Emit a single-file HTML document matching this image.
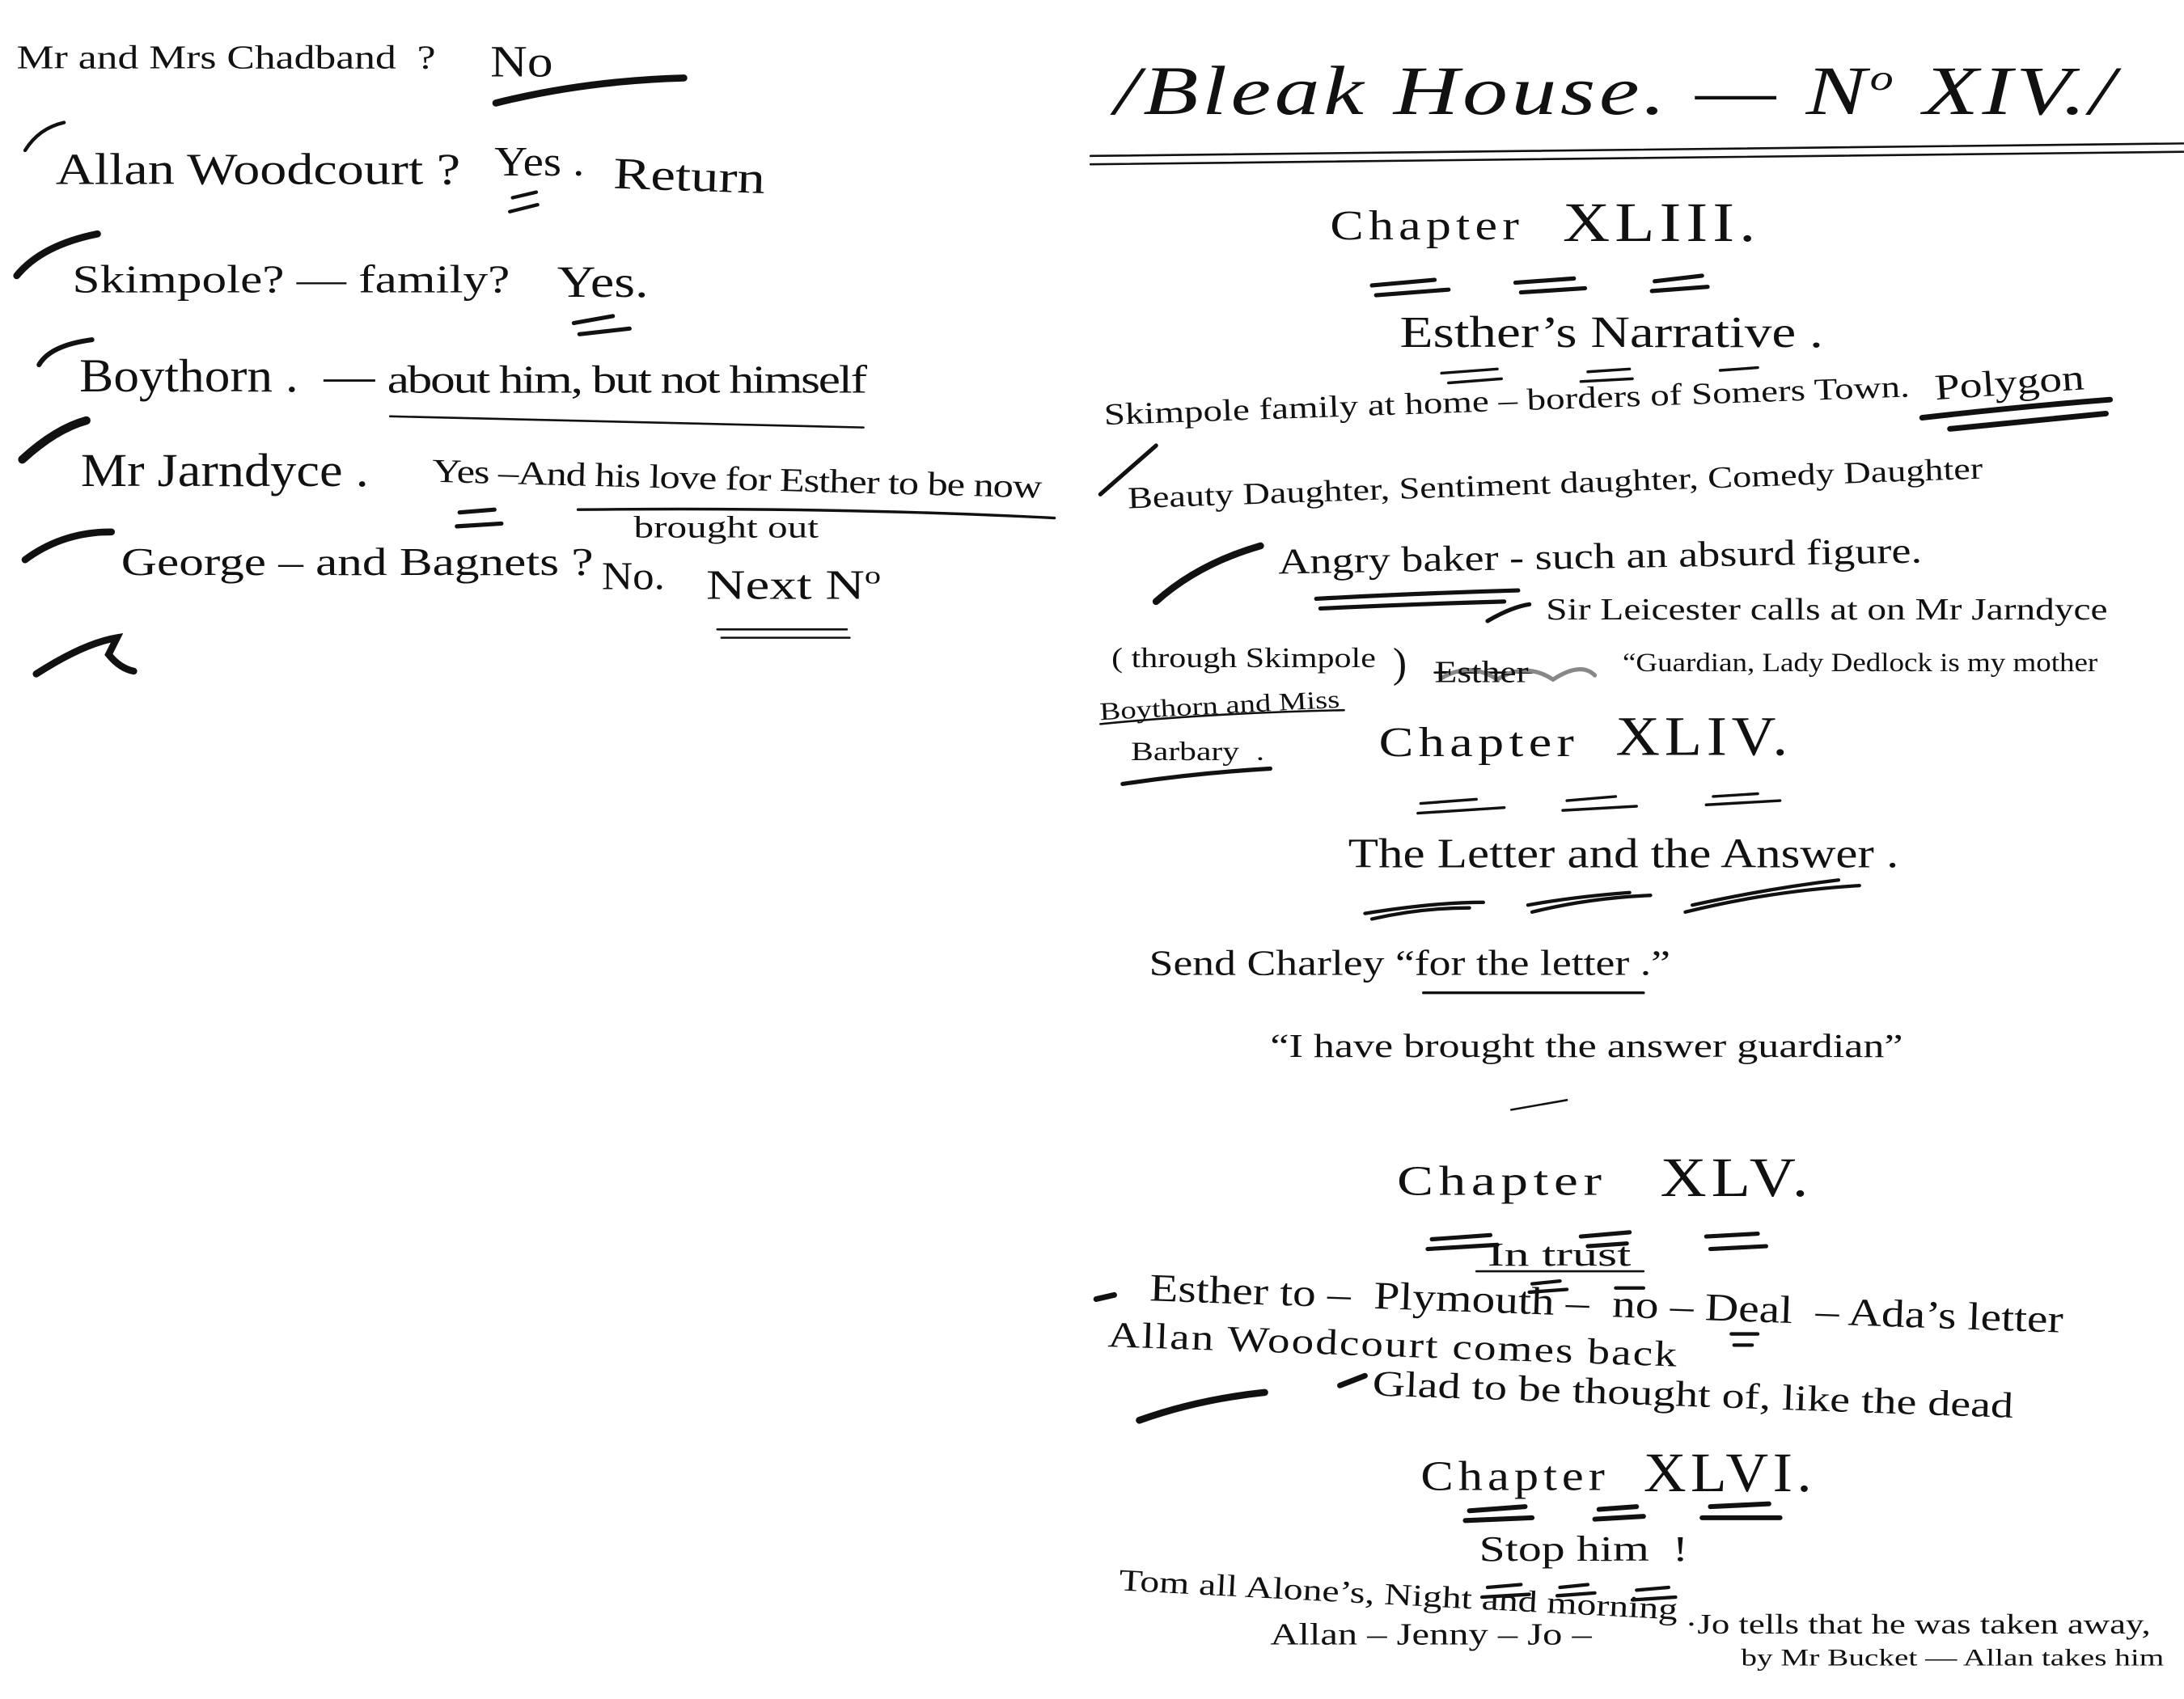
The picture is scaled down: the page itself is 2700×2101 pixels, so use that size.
<!DOCTYPE html>
<html><head><meta charset="utf-8"><style>
html,body{margin:0;padding:0;background:#fff;width:2700px;height:2100px;overflow:hidden}
#w{position:absolute;left:0;top:0;width:1568px;height:1220px;transform:scale(1.7219);transform-origin:0 0;font-family:"Liberation Serif",serif;color:#111}
.t{position:absolute;white-space:nowrap;line-height:1;transform-origin:0 100%;transform:rotate(var(--r,0deg)) scaleX(var(--s,1.22))}
svg{position:absolute;left:0;top:0}
.ch{letter-spacing:3px}
</style></head><body><div id="w">
<svg width="1568" height="1220" viewBox="0 0 1568 1220" fill="none" stroke="#111" stroke-linecap="round">
<path d="M356 74 Q420 58 491 56" stroke-width="5"/>
<path d="M18 108 Q28 92 46 88" stroke-width="2.5"/>
<path d="M12 198 Q30 176 70 168" stroke-width="5"/>
<path d="M28 262 Q36 248 66 244" stroke-width="3.5"/>
<path d="M16 330 Q40 308 62 302" stroke-width="6"/>
<path d="M18 402 Q45 382 80 382" stroke-width="5"/>
<path d="M26 484 Q60 462 84 458 L78 470 Q86 480 96 482" stroke-width="5"/>
<path d="M368 142 L385 138 M366 152 L386 147" stroke-width="2.5"/>
<path d="M412 232 L440 227 M416 240 L452 236" stroke-width="3"/>
<path d="M280 299 Q450 303 620 307" stroke-width="1.5"/>
<path d="M330 368 L355 366 M328 378 L360 376" stroke-width="3"/>
<path d="M415 366 Q600 364 757 372" stroke-width="2"/>
<path d="M515 452 L608 452 M518 458 L610 458" stroke-width="1.5"/>
<path d="M783 112 L1568 103 M783 118 L1568 109" stroke-width="1.5"/>
<path d="M985 205 L1030 201 M988 212 L1040 208 M1088 203 L1130 200 M1092 210 L1138 207 M1188 202 L1222 198 M1186 209 L1226 206" stroke-width="3"/>
<path d="M1035 268 L1075 265 M1040 275 L1078 272 M1140 267 L1170 265 M1135 274 L1172 272 M1235 266 L1262 264" stroke-width="2"/>
<path d="M1380 300 Q1450 292 1515 287 M1400 308 Q1460 302 1512 297" stroke-width="4"/>
<path d="M790 355 L830 320" stroke-width="3"/>
<path d="M830 432 Q860 405 905 392" stroke-width="5"/>
<path d="M945 430 Q1020 426 1090 424 M948 437 Q1010 434 1080 432" stroke-width="3"/>
<path d="M1068 446 Q1085 436 1098 434" stroke-width="3"/>
<path d="M1030 483 L1100 483" stroke-width="1.5"/>
<path d="M1035 487 Q1055 475 1075 488 Q1095 475 1115 488 Q1135 475 1145 485" stroke="#888" stroke-width="3"/>
<path d="M790 520 Q870 512 965 510" stroke-width="1.5"/>
<path d="M806 563 Q860 555 912 552" stroke-width="3"/>
<path d="M1020 577 L1060 574 M1018 584 L1080 580 M1125 575 L1160 572 M1122 582 L1175 579 M1230 572 L1262 570 M1225 578 L1278 575" stroke-width="2"/>
<path d="M985 660 Q1020 652 1055 652 M980 656 Q1030 648 1065 648 M1100 655 Q1140 645 1185 643 M1097 650 Q1130 644 1170 641 M1210 655 Q1270 640 1335 636 M1215 650 Q1270 638 1320 632" stroke-width="2.5"/>
<path d="M1022 713 L1180 713" stroke-width="2"/>
<path d="M1085 797 L1125 790" stroke-width="1.5"/>
<path d="M1028 890 L1070 887 M1025 897 L1075 894 M1135 888 L1170 885 M1140 895 L1168 893 M1225 888 L1262 886 M1228 897 L1268 895" stroke-width="3"/>
<path d="M1060 913 L1180 913" stroke-width="1.5"/>
<path d="M1100 922 L1120 920 M1098 928 L1125 926 M1160 925 L1180 925 M1243 958 L1262 958 M1245 966 L1258 966" stroke-width="2.5"/>
<path d="M787 933 L800 930" stroke-width="4"/>
<path d="M818 1020 Q860 1005 908 1000" stroke-width="5"/>
<path d="M962 995 L980 988" stroke-width="4"/>
<path d="M1055 1085 L1095 1082 M1052 1092 L1100 1090 M1148 1084 L1175 1082 M1145 1091 L1180 1089 M1228 1082 L1270 1080 M1222 1090 L1278 1090" stroke-width="3.5"/>
<path d="M1068 1140 L1092 1138 M1064 1147 L1098 1145 M1120 1140 L1140 1138 M1118 1146 L1145 1144 M1175 1142 L1198 1140 M1172 1149 L1203 1147" stroke-width="2.5"/>
</svg>
<div class="t" style="left:12px;top:30px;font-size:24px;--s:1.25">Mr and Mrs Chadband&nbsp; ?</div>
<div class="t" style="left:352px;top:28px;font-size:32px;--s:1.15">No</div>
<div class="t" style="left:40px;top:105px;font-size:32px;--s:1.2">Allan Woodcourt ?</div>
<div class="t" style="left:355px;top:102px;font-size:30px;--s:1.1">Yes .</div>
<div class="t" style="left:440px;top:108px;font-size:32px;--r:2deg;--s:1.25">Return</div>
<div class="t" style="left:52px;top:188px;font-size:28px;--s:1.27">Skimpole? — family?</div>
<div class="t" style="left:400px;top:186px;font-size:32px;--s:1.2">Yes.</div>
<div class="t" style="left:57px;top:254px;font-size:34px;--s:1.08">Boythorn .&nbsp; —</div>
<div class="t" style="left:278px;top:260px;font-size:28px;letter-spacing:-1px;--s:1.27">about him, but not himself</div>
<div class="t" style="left:58px;top:322px;font-size:34px;--s:1.1">Mr Jarndyce .</div>
<div class="t" style="left:310px;top:327px;font-size:24px;letter-spacing:-0.5px;--r:1.5deg;--s:1.22">Yes –And his love for Esther to be now</div>
<div class="t" style="left:455px;top:368px;font-size:22px;--s:1.3">brought out</div>
<div class="t" style="left:87px;top:391px;font-size:28px;--s:1.27">George – and Bagnets ?</div>
<div class="t" style="left:432px;top:401px;font-size:28px;--s:1.1">No.</div>
<div class="t" style="left:507px;top:404px;font-size:30px;--s:1.3">Next N<sup style="font-size:18px">o</sup></div>
<div class="t" style="left:800px;top:40px;font-size:50px;font-style:italic;letter-spacing:2px;--s:1.3">/Bleak House. — N<sup style="font-size:26px">o</sup> XIV./</div>
<div class="t ch" style="left:955px;top:148px;font-size:30px;--s:1.2">Chapter</div>
<div class="t ch" style="left:1122px;top:140px;font-size:40px;--s:1.17">XLIII.</div>
<div class="t" style="left:1005px;top:222px;font-size:32px">Esther’s Narrative .</div>
<div class="t" style="left:793px;top:287px;font-size:22px;--r:-2deg;--s:1.24">Skimpole family at home – borders of Somers Town.</div>
<div class="t" style="left:1390px;top:266px;font-size:26px;--r:-4deg;--s:1.24">Polygon</div>
<div class="t" style="left:810px;top:347px;font-size:22px;--r:-2deg">Beauty Daughter, Sentiment daughter, Comedy Daughter</div>
<div class="t" style="left:918px;top:391px;font-size:26px;--r:-1deg;--s:1.21">Angry baker - such an absurd figure.</div>
<div class="t" style="left:1110px;top:427px;font-size:22px;--s:1.25">Sir Leicester calls at on Mr Jarndyce</div>
<div class="t" style="left:798px;top:463px;font-size:20px">( through Skimpole</div>
<div class="t" style="left:1000px;top:462px;font-size:30px;--s:1">)</div>
<div class="t" style="left:1030px;top:472px;font-size:22px;--s:1.2">Esther</div>
<div class="t" style="left:1165px;top:467px;font-size:19px;--s:1.13">“Guardian, Lady Dedlock is my mother</div>
<div class="t" style="left:790px;top:502px;font-size:18px;--r:-3deg;--s:1.25">Boythorn and Miss</div>
<div class="t" style="left:812px;top:531px;font-size:19px;--s:1.27">Barbary&nbsp; .</div>
<div class="t ch" style="left:990px;top:519px;font-size:30px;--s:1.24">Chapter</div>
<div class="t ch" style="left:1160px;top:509px;font-size:40px;--s:1.1">XLIV.</div>
<div class="t" style="left:968px;top:599px;font-size:30px;--s:1.18">The Letter and the Answer .</div>
<div class="t" style="left:825px;top:679px;font-size:26px;--s:1.2">Send Charley “for the letter .”</div>
<div class="t" style="left:912px;top:740px;font-size:24px;--s:1.26">“I have brought the answer guardian”</div>
<div class="t ch" style="left:1003px;top:834px;font-size:30px;--s:1.3">Chapter</div>
<div class="t ch" style="left:1192px;top:826px;font-size:40px;--s:1.15">XLV.</div>
<div class="t" style="left:1068px;top:890px;font-size:24px;--s:1.5">In trust</div>
<div class="t" style="left:825px;top:912px;font-size:28px;--r:2deg;--s:1.19">Esther to –&nbsp; Plymouth –&nbsp; no – Deal&nbsp; – Ada’s letter</div>
<div class="t" style="left:795px;top:946px;font-size:26px;letter-spacing:1px;--r:2deg;--s:1.23">Allan Woodcourt comes back</div>
<div class="t" style="left:985px;top:981px;font-size:26px;--r:2deg;--s:1.25">Glad to be thought of, like the dead</div>
<div class="t ch" style="left:1020px;top:1046px;font-size:30px;--s:1.17">Chapter</div>
<div class="t ch" style="left:1180px;top:1038px;font-size:40px;--s:1.06">XLVI.</div>
<div class="t" style="left:1062px;top:1100px;font-size:26px;--s:1.29">Stop him&nbsp; !</div>
<div class="t" style="left:803px;top:1124px;font-size:22px;--r:3deg;--s:1.26">Tom all Alone’s, Night and morning</div>
<div class="t" style="left:912px;top:1163px;font-size:22px;--s:1.28">Allan – Jenny – Jo –</div>
<div class="t" style="left:1210px;top:1157px;font-size:20px;--s:1.3">·Jo tells that he was taken away,</div>
<div class="t" style="left:1250px;top:1182px;font-size:17px;--s:1.34">by Mr Bucket — Allan takes him</div>
</div></body></html>
